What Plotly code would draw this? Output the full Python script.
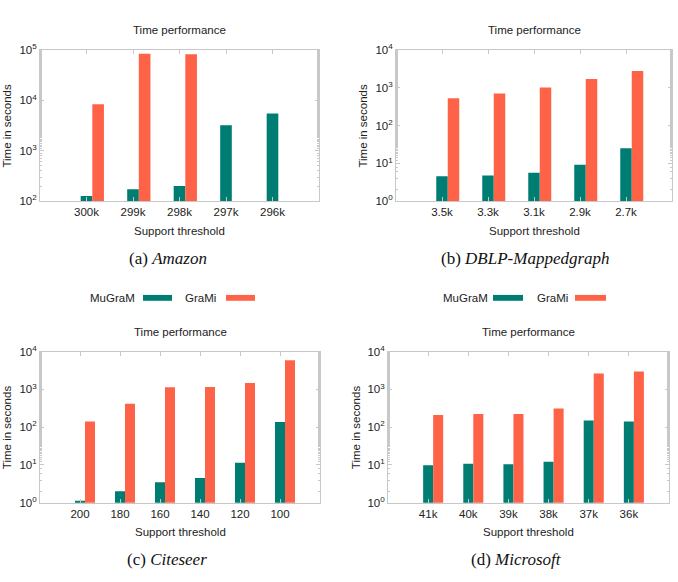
import plotly.graph_objects as go
import numpy as np

# ---------------- data ----------------
amazon_labels = ["300k", "299k", "298k", "297k", "296k"]
amazon_mugram = [127, 173, 201, 3210, 5480]
amazon_grami = [8400, 83800, 82600, None, None]

dblp_labels = ["3.5k", "3.3k", "3.1k", "2.9k", "2.7k"]
dblp_mugram = [4.6, 4.8, 5.7, 9.2, 25]
dblp_grami = [526, 708, 1010, 1720, 2770]

citeseer_labels = ["200", "180", "160", "140", "120", "100"]
citeseer_mugram = [1.13, 2.03, 3.5, 4.5, 11.5, 136]
citeseer_grami = [141, 418, 1140, 1150, 1480, 5870]

microsoft_labels = ["41k", "40k", "39k", "38k", "37k", "36k"]
microsoft_mugram = [9.9, 10.7, 10.5, 12.2, 150, 141]
microsoft_grami = [210, 222, 222, 311, 2620, 2950]

series_names = ["MuGraM", "GraMi"]
TEAL = "#007d72"
CORAL = "#ff6347"

W, H = 678, 582

panels = [
    dict(labels=amazon_labels, m=amazon_mugram, g=amazon_grami, yr=(2, 5),
         px=(40, 319), py=(43, 198), ylab_x=7, cap="(a) <i>Amazon</i>", cap_x=168, title_y=23, cap_y=257, xt_y=229),
    dict(labels=dblp_labels, m=dblp_mugram, g=dblp_grami, yr=(0, 4),
         px=(396, 672), py=(43, 198), ylab_x=363, cap="(b) <i>DBLP-Mappedgraph</i>", cap_x=525, title_y=23, cap_y=257, xt_y=229),
    dict(labels=citeseer_labels, m=citeseer_mugram, g=citeseer_grami, yr=(0, 4),
         px=(40, 320), py=(352, 507), ylab_x=7, cap="(c) <i>Citeseer</i>", cap_x=167, title_y=332, cap_y=565, xt_y=537),
    dict(labels=microsoft_labels, m=microsoft_mugram, g=microsoft_grami, yr=(0, 4),
         px=(388, 669), py=(352, 507), ylab_x=356, cap="(d) <i>Microsoft</i>", cap_x=516, title_y=332, cap_y=565, xt_y=537),
]

def fx(px):
    return px / W

def fy(py):
    return 1 - py / H

fig = go.Figure()
annotations = []
shapes = []
FONT = "Liberation Sans, Arial, sans-serif"
FS = 11.5
TXT = "#222222"
FRAME = "#c8c8c8"

for k, p in enumerate(panels):
    idx = k + 1
    xa = "x" if idx == 1 else f"x{idx}"
    ya = "y" if idx == 1 else f"y{idx}"
    n = len(p["labels"])
    xs = np.arange(n)
    fig.add_trace(go.Bar(x=xs, y=p["m"], width=0.25, offset=-0.125, marker_color=TEAL,
                         marker_line_width=0, name=series_names[0], showlegend=False,
                         xaxis=xa, yaxis=ya))
    fig.add_trace(go.Bar(x=xs, y=p["g"], width=0.25, offset=0.125, marker_color=CORAL,
                         marker_line_width=0, name=series_names[1], showlegend=False,
                         xaxis=xa, yaxis=ya))
    lo, hi = p["yr"]
    tv = [10 ** e for e in range(lo, hi + 1)]
    tt = [f"10<sup>{e}</sup>" for e in range(lo, hi + 1)]
    xkey = "xaxis" if idx == 1 else f"xaxis{idx}"
    ykey = "yaxis" if idx == 1 else f"yaxis{idx}"
    fig.update_layout(**{
        xkey: dict(domain=[fx(p["px"][0]), fx(p["px"][1])], anchor=ya,
                   range=[-1, n], tickvals=list(xs), ticktext=p["labels"],
                   ticks="inside", ticklen=4, tickcolor=FRAME,
                   showline=True, linecolor=FRAME, linewidth=1, mirror="allticks",
                   showgrid=False, zeroline=False,
                   tickfont=dict(family=FONT, size=FS, color=TXT)),
        ykey: dict(domain=[fy(p["py"][1]), fy(p["py"][0])], anchor=xa,
                   type="log", range=[lo, hi], tickvals=tv, ticktext=tt,
                   ticks="inside", ticklen=4, tickcolor=FRAME,
                   minor=dict(ticks="inside", ticklen=2, tickcolor=FRAME, showgrid=False),
                   showline=True, linecolor=FRAME, linewidth=1, mirror="allticks",
                   showgrid=False, zeroline=False,
                   tickfont=dict(family=FONT, size=FS, color=TXT)),
    })
    cx = (p["px"][0] + p["px"][1]) / 2
    cy = (p["py"][0] + p["py"][1]) / 2
    annotations.append(dict(text="Time performance", x=fx(cx), y=fy(p["title_y"]), xref="paper", yref="paper",
                            showarrow=False, xanchor="center", yanchor="middle",
                            font=dict(family=FONT, size=FS, color=TXT)))
    annotations.append(dict(text="Support threshold", x=fx(cx), y=fy(p["xt_y"]), xref="paper", yref="paper",
                            showarrow=False, xanchor="center", yanchor="middle",
                            font=dict(family=FONT, size=FS, color=TXT)))
    annotations.append(dict(text="Time in seconds", x=fx(p["ylab_x"]), y=fy(cy), xref="paper", yref="paper",
                            showarrow=False, xanchor="center", yanchor="middle", textangle=-90,
                            font=dict(family=FONT, size=FS, color=TXT)))
    annotations.append(dict(text=p["cap"], x=fx(p["cap_x"]), y=fy(p["cap_y"]), xref="paper", yref="paper",
                            showarrow=False, xanchor="center", yanchor="middle",
                            font=dict(family="Liberation Serif, DejaVu Serif, serif", size=17, color="#111111")))

# legends above bottom panels
legends = [
    dict(t1x=137, s1=(143, 172), t2x=218, s2=(226, 255)),
    dict(t1x=490, s1=(493, 523), t2x=570, s2=(575, 606)),
]
LEG_Y = 297
for lg in legends:
    annotations.append(dict(text=series_names[0], x=fx(lg["t1x"]), y=fy(LEG_Y), xref="paper", yref="paper",
                            showarrow=False, xanchor="right", yanchor="middle",
                            font=dict(family=FONT, size=FS, color=TXT)))
    annotations.append(dict(text=series_names[1], x=fx(lg["t2x"]), y=fy(LEG_Y), xref="paper", yref="paper",
                            showarrow=False, xanchor="right", yanchor="middle",
                            font=dict(family=FONT, size=FS, color=TXT)))
    shapes.append(dict(type="rect", xref="paper", yref="paper", x0=fx(lg["s1"][0]), x1=fx(lg["s1"][1]),
                       y0=fy(LEG_Y + 3), y1=fy(LEG_Y - 3), fillcolor=TEAL, line_width=0))
    shapes.append(dict(type="rect", xref="paper", yref="paper", x0=fx(lg["s2"][0]), x1=fx(lg["s2"][1]),
                       y0=fy(LEG_Y + 3), y1=fy(LEG_Y - 3), fillcolor=CORAL, line_width=0))

fig.update_layout(width=W, height=H, margin=dict(l=0, r=0, t=0, b=0),
                  paper_bgcolor="white", plot_bgcolor="white", barmode="overlay",
                  showlegend=False, annotations=annotations, shapes=shapes)

fig.write_html("out.html")
